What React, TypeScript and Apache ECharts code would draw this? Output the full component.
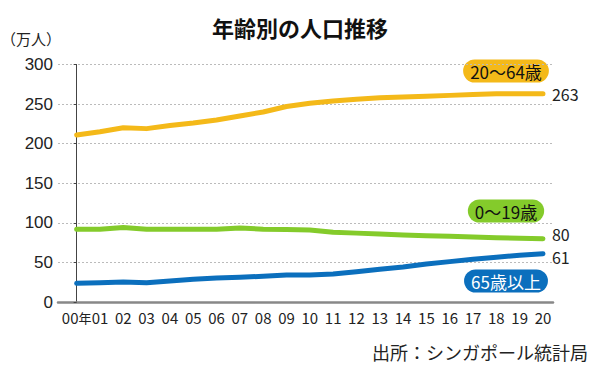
import React, { useEffect, useRef } from "react";
import * as echarts from "echarts";

const years = ["00年", "01", "02", "03", "04", "05", "06", "07", "08", "09", "10", "11", "12", "13", "14", "15", "16", "17", "18", "19", "20"];
const working = [211, 215, 220, 219, 223, 226, 230, 235, 240, 247, 251, 254, 256, 258, 259, 260, 261, 262, 263, 263, 263];
const young = [92, 92, 94, 92, 92, 92, 92, 93.5, 92, 91.7, 91, 88, 87, 86, 84.6, 83.8, 83, 82, 81.2, 80.4, 80];
const elderly = [23.6, 24.4, 25.3, 24.4, 26.5, 28.6, 30.3, 31.2, 32.5, 34, 34.1, 35.4, 38.3, 41.3, 44.2, 48, 51, 54, 56.5, 59, 61];
const yTicks = [0, 50, 100, 150, 200, 250, 300];

const FONT = "'Noto Sans CJK JP', 'Noto Sans', sans-serif";
const SANS = "'Liberation Sans', 'Noto Sans CJK JP', sans-serif";

export default function App() {
  const ref = useRef<HTMLDivElement>(null);
  useEffect(() => {
    if (!ref.current) return;
    const chart = echarts.init(ref.current, undefined, { renderer: "svg" });
    const toPairs = (arr: number[]) => arr.map((v, i) => [i, v]);
    const mkSeries = (name: string, data: number[], color: string, offY: number) => ({
      name,
      type: "line",
      data: toPairs(data),
      showSymbol: false,
      symbol: "none",
      smooth: false,
      lineStyle: { color, width: 5, cap: "round", join: "round" },
      endLabel: {
        show: true,
        formatter: (p: any) => String(Math.round(p.value[1])),
        distance: 9,
        offset: [0, offY],
        fontFamily: FONT,
        fontSize: 16,
        lineHeight: 16,
        color: "#222",
      },
    });
    const badge = (text: string, y: number, bg: string, fg: string) => ({
      type: "text",
      x: 506,
      y,
      style: {
        text, align: "center", verticalAlign: "middle", fontFamily: FONT, fontSize: 17, fill: fg,
        backgroundColor: bg, borderRadius: 12, padding: [3, 7, 3, 7],
      },
    });
    chart.setOption({
      animation: false,
      title: {
        text: "年齢別の人口推移",
        left: "center",
        top: 11,
        textStyle: { fontFamily: FONT, fontSize: 22, fontWeight: "bold", color: "#111" },
      },
      grid: { left: 58, right: 47, top: 64.5, bottom: 67, containLabel: false },
      xAxis: {
        type: "value",
        min: -0.8,
        max: 20.43,
        axisLine: { show: true, onZero: true, lineStyle: { color: "#888", width: 2.5 } },
        axisTick: { show: false },
        splitLine: { show: false },
        axisLabel: {
          customValues: years.map((_, i) => i),
          formatter: (v: number) => {
            const t = years[Math.round(v)] ?? "";
            return t.endsWith("年") ? t.slice(0, -1) + "{n|年}" : t;
          },
          rich: { n: { fontFamily: FONT, fontSize: 13, color: "#222" } },
          fontFamily: FONT,
          fontSize: 15,
          color: "#222",
          margin: 8,
          hideOverlap: false,
        },
      },
      yAxis: {
        type: "value",
        min: 0,
        max: 300,
        interval: 50,
        axisLine: { show: true, lineStyle: { color: "#444", width: 1 } },
        axisTick: { show: true, length: 3, lineStyle: { color: "#444" }, customValues: yTicks },
        axisLabel: { fontFamily: SANS, fontSize: 17, color: "#222", margin: 5, lineHeight: 17 },
        splitLine: { show: true, lineStyle: { type: [2, 2], color: "#bbb", width: 1 } },
      },
      series: [
        mkSeries("20～64歳", working, "#f4b919", 0),
        mkSeries("0～19歳", young, "#84cb2b", -5),
        mkSeries("65歳以上", elderly, "#0b6fbd", 3),
      ],
      graphic: [
        {
          type: "text",
          left: 1,
          top: 31,
          style: { text: "（万人）", fontFamily: FONT, fontSize: 15, fill: "#222" },
        },
        {
          type: "text",
          x: 588,
          y: 352,
          style: { text: "出所：シンガポール統計局", align: "right", verticalAlign: "middle", fontFamily: FONT, fontSize: 18, fill: "#222" },
        },
        badge("20～64歳", 71, "#f4b919", "#111"),
        badge("0～19歳", 211, "#84cb2b", "#111"),
        badge("65歳以上", 281, "#0b6fbd", "#fff"),
      ],
    });
    return () => chart.dispose();
  }, []);
  return <div ref={ref} style={{ width: 600, height: 369, position: "absolute", left: 0, top: 0 }} />;
}
